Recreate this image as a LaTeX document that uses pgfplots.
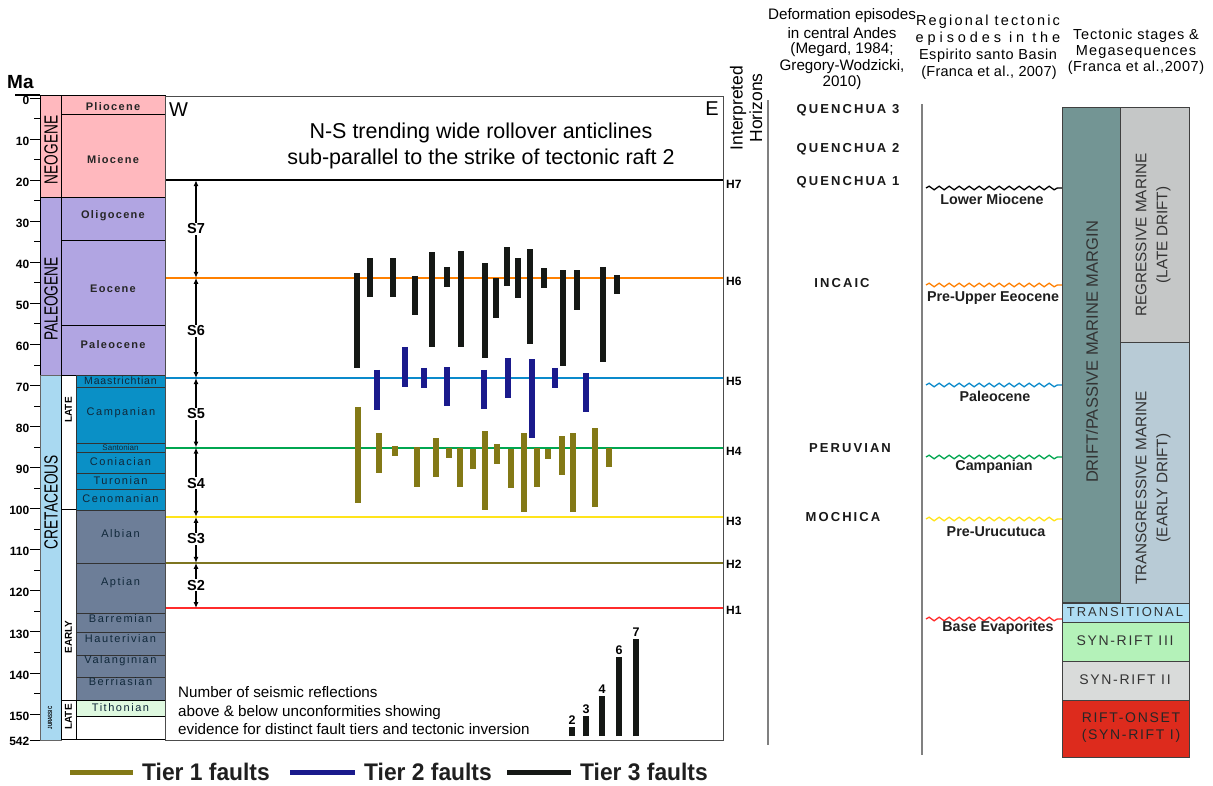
\documentclass[border=0pt]{standalone}
\usepackage{pgfplots}
\pgfplotsset{compat=1.18}
\usepackage{fontspec}
\setmainfont{Liberation Sans}
\usepackage{graphicx}
\usetikzlibrary{arrows.meta,decorations.pathmorphing}
\definecolor{neo}{HTML}{FFB8BE}
\definecolor{pal}{HTML}{B1A5E2}
\definecolor{cre}{HTML}{A9D9F1}
\definecolor{lcr}{HTML}{0A90C6}
\definecolor{ecr}{HTML}{6D7E98}
\definecolor{tith}{HTML}{DFF9E0}
\definecolor{drift}{HTML}{739594}
\definecolor{regr}{HTML}{C5C7C7}
\definecolor{trans}{HTML}{B8CBD6}
\definecolor{transit}{HTML}{AEDDF3}
\definecolor{srthree}{HTML}{B4F2B9}
\definecolor{srtwo}{HTML}{D9DBDA}
\definecolor{rift}{HTML}{DD2B1D}
\definecolor{horsix}{HTML}{FF8000}
\definecolor{horfive}{HTML}{0A8ACB}
\definecolor{horfour}{HTML}{00A650}
\definecolor{horthree}{HTML}{FFE41A}
\definecolor{hortwo}{HTML}{7E7520}
\definecolor{horone}{HTML}{FF2B2B}
\definecolor{tierA}{HTML}{837916}
\definecolor{tierB}{HTML}{1A1A8C}
\definecolor{tierC}{HTML}{151815}
\definecolor{stxt}{HTML}{10283A}
\definecolor{btxt}{HTML}{333333}
\newcommand{\F}[2]{\fontsize{#1}{#2}\selectfont}
\newcommand{\LS}[1]{\addfontfeatures{LetterSpace=#1}}
\pgfplotsset{ma/.style={y filter/.expression={98+4.107*y}}}
\newcommand{\prect}[5]{\addplot[#1] coordinates {(#2,#3) (#4,#3) (#4,#5) (#2,#5)} -- cycle;}
\newcommand{\srect}[5]{\addplot[#1,ma] coordinates {(#2,#3) (#4,#3) (#4,#5) (#2,#5)} -- cycle;}
\newcommand{\fault}[4]{\addplot[#1,line width=6pt,ma] coordinates {(#2,#3) (#2,#4)};}
\newcommand{\hzn}[2]{\addplot[#1,ma] coordinates {(166,#2) (723,#2)};}
\newcommand{\sarrow}[2]{\addplot[black,line width=1.3pt,ma,{Latex[length=6pt,width=5pt]}-{Latex[length=6pt,width=5pt]}] coordinates {(196,#1) (196,#2)};}
\newcommand{\wavy}[2]{\addplot[#1,line width=1.3pt,decorate,decoration={snake,amplitude=1.8pt,segment length=10pt}] coordinates {(926,#2) (1062,#2)};}
\begin{document}
\begin{tikzpicture}
\begin{axis}[width=1213pt,height=785pt,scale only axis,
  xmin=0,xmax=1213,ymin=0,ymax=785,y dir=reverse,
  axis lines=none,clip=false]
\prect{fill=white,draw=none}{0}{0}{1213}{785}
% ---------- stratigraphic column (ages in Ma) ----------
\srect{fill=neo,draw=black,line width=0.8pt}{40}{-0.6}{61}{24.2}
\srect{fill=pal,draw=black,line width=0.8pt}{40}{24.2}{61}{67.6}
\srect{fill=cre,draw=black!60,line width=0.8pt}{40}{67.6}{61}{156.3}
\srect{fill=neo,draw=black,line width=0.8pt}{61}{-0.6}{165}{4.1}
\srect{fill=neo,draw=black,line width=0.8pt}{61}{4.1}{165}{24.2}
\srect{fill=pal,draw=black,line width=0.8pt}{61}{24.2}{165}{34.6}
\srect{fill=pal,draw=black,line width=0.8pt}{61}{34.6}{165}{55.3}
\srect{fill=pal,draw=black,line width=0.8pt}{61}{55.3}{165}{67.6}
\srect{fill=white,draw=black,line width=1pt}{61}{67.6}{76}{100.3}
\srect{fill=white,draw=black,line width=1pt}{61}{100.3}{76}{146.8}
\srect{fill=white,draw=black,line width=1pt}{61}{146.8}{76}{156.3}
\srect{fill=lcr,draw=black!80,line width=0.8pt}{76}{67.6}{165}{70.4}
\srect{fill=lcr,draw=black!80,line width=0.8pt}{76}{70.4}{165}{84.0}
\srect{fill=lcr,draw=black!80,line width=0.8pt}{76}{84.0}{165}{86.4}
\srect{fill=lcr,draw=black!80,line width=0.8pt}{76}{86.4}{165}{91.3}
\srect{fill=lcr,draw=black!80,line width=0.8pt}{76}{91.3}{165}{95.4}
\srect{fill=lcr,draw=black!80,line width=0.8pt}{76}{95.4}{165}{100.3}
\srect{fill=ecr,draw=black!80,line width=0.8pt}{76}{100.3}{165}{113.2}
\srect{fill=ecr,draw=black!80,line width=0.8pt}{76}{113.2}{165}{125.4}
\srect{fill=ecr,draw=black!80,line width=0.8pt}{76}{125.4}{165}{130.0}
\srect{fill=ecr,draw=black!80,line width=0.8pt}{76}{130.0}{165}{135.6}
\srect{fill=ecr,draw=black!80,line width=0.8pt}{76}{135.6}{165}{141.0}
\srect{fill=ecr,draw=black!80,line width=0.8pt}{76}{141.0}{165}{146.8}
\srect{fill=tith,draw=black,line width=1pt}{76}{146.8}{165}{150.5}
\srect{fill=white,draw=black,line width=1pt}{76}{150.5}{165}{156.3}
% Ma ticks
\addplot[black,line width=1.5pt] coordinates {(15,95) (40,95)};
\pgfplotsinvokeforeach{0,10,...,150}{
  \addplot[black,line width=0.9pt,ma] coordinates {(30,#1) (40,#1)};
  \node[font=\F{12}{13}\bfseries,anchor=east,inner sep=0pt] at (axis cs:29.5,{98+4.107*#1+2}) {#1};
}
\pgfplotsinvokeforeach{5,15,...,145}{
  \addplot[black,line width=0.9pt,ma] coordinates {(34,#1) (40,#1)};
}
\addplot[black,line width=0.9pt] coordinates {(30,740) (40,740)};
\node[font=\F{12}{13}\bfseries,anchor=east,inner sep=0pt] at (axis cs:29.5,741) {542};
\node[font=\F{19}{22}\bfseries,anchor=west,inner sep=0pt] at (axis cs:7,82) {Ma};
% period / epoch labels
\node[font=\F{19}{20},rotate=90,inner sep=0pt] at (axis cs:51,150) {\scalebox{0.72}[1]{NEOGENE}};
\node[font=\F{19}{20},rotate=90,inner sep=0pt] at (axis cs:51,299) {\scalebox{0.72}[1]{PALEOGENE}};
\node[font=\F{19}{20},rotate=90,inner sep=0pt] at (axis cs:51,502) {\scalebox{0.72}[1]{CRETACEOUS}};
\node[font=\F{6}{7}\bfseries,rotate=90,inner sep=0pt] at (axis cs:50,718) {\scalebox{0.75}[1]{JURASSIC}};
\node[font=\F{10}{11}\bfseries,rotate=90,inner sep=0pt] at (axis cs:68.5,410) {LATE};
\node[font=\F{10}{11}\bfseries,rotate=90,inner sep=0pt] at (axis cs:68.5,637) {EARLY};
\node[font=\F{10}{11}\bfseries,rotate=90,inner sep=0pt] at (axis cs:68.5,717) {LATE};
\begin{scope}[every node/.style={font=\F{11}{12}\bfseries\LS{12},text=black!85,inner sep=0pt}]
\node at (axis cs:113,107) {Pliocene};
\node at (axis cs:113,160) {Miocene};
\node at (axis cs:113,216) {Oligocene};
\node at (axis cs:113,289) {Eocene};
\node at (axis cs:113,345) {Paleocene};
\end{scope}
\begin{scope}[every node/.style={font=\F{11}{12}\LS{14},text=stxt,inner sep=0pt}]
\node[font=\F{10.5}{12}\LS{8}] at (axis cs:120.5,381) {Maastrichtian};
\node at (axis cs:121,413) {Campanian};
\node[font=\F{8}{9}] at (axis cs:120.5,448) {Santonian};
\node at (axis cs:120.5,462) {Coniacian};
\node at (axis cs:120.5,481) {Turonian};
\node at (axis cs:120.5,499) {Cenomanian};
\node at (axis cs:120.5,534) {Albian};
\node at (axis cs:120.5,583) {Aptian};
\node at (axis cs:120.5,619) {Barremian};
\node at (axis cs:120.5,639) {Hauterivian};
\node at (axis cs:120.5,661) {Valanginian};
\node at (axis cs:120.5,682) {Berriasian};
\node at (axis cs:120.5,708) {Tithonian};
\end{scope}
% ---------- main panel ----------
\prect{draw=black!70,line width=0.8pt}{165}{96}{723}{740}
\hzn{horone,line width=2.2pt}{124.2}
\hzn{hortwo,line width=2.2pt}{113.2}
\hzn{horthree,line width=2.2pt}{102.0}
\hzn{horfour,line width=2pt}{85.1}
\hzn{horfive,line width=2.2pt}{68.2}
\hzn{horsix,line width=2.2pt}{43.8}
\hzn{black,line width=2pt}{20.0}
\sarrow{20.0}{43.8}
\sarrow{43.8}{68.2}
\sarrow{68.2}{85.1}
\sarrow{85.1}{102.0}
\sarrow{102.0}{113.2}
\sarrow{113.2}{124.2}
\begin{scope}[every node/.style={font=\F{14.5}{15}\bfseries,fill=white,inner sep=1pt}]
\node at (axis cs:196,229) {S7};
\node at (axis cs:196,331) {S6};
\node at (axis cs:196,414) {S5};
\node at (axis cs:196,483) {S4};
\node at (axis cs:196,539) {S3};
\node at (axis cs:196,585) {S2};
\end{scope}
\begin{scope}[every node/.style={font=\F{12}{13}\bfseries,anchor=west,inner sep=0pt}]
\node at (axis cs:726,184) {H7};
\node at (axis cs:726,281) {H6};
\node at (axis cs:726,381) {H5};
\node at (axis cs:726,451) {H4};
\node at (axis cs:726,521) {H3};
\node at (axis cs:726,564) {H2};
\node at (axis cs:726,610) {H1};
\end{scope}
\node[font=\F{20}{21},anchor=west,inner sep=0pt] at (axis cs:169,110) {W};
\node[font=\F{20}{21},anchor=east,inner sep=0pt] at (axis cs:719,109) {E};
\node[font=\F{21.5}{25.5},align=center,inner sep=0pt] at (axis cs:481,146) {N-S trending wide rollover anticlines\\sub-parallel to the strike of tectonic raft 2};
\node[font=\F{15.2}{18.5},align=left,anchor=west,inner sep=0pt] at (axis cs:178,711) {Number of seismic reflections\\above \& below unconformities showing\\evidence for distinct fault tiers and tectonic inversion};
\node[font=\F{17.5}{19.5},align=center,rotate=90,inner sep=0pt] at (axis cs:746,108) {Interpreted\\Horizons};
% Tier 3 faults
\fault{tierC}{357}{42.6}{65.7}
\fault{tierC}{370}{39.0}{48.5}
\fault{tierC}{393}{39.0}{48.5}
\fault{tierC}{415}{43.3}{52.8}
\fault{tierC}{432}{37.5}{60.6}
\fault{tierC}{447}{41.1}{46.0}
\fault{tierC}{461}{37.3}{60.6}
\fault{tierC}{485}{40.2}{63.3}
\fault{tierC}{496}{43.8}{53.6}
\fault{tierC}{507}{36.3}{45.8}
\fault{tierC}{518}{39.0}{48.7}
\fault{tierC}{530}{36.8}{59.9}
\fault{tierC}{544}{41.4}{46.3}
\fault{tierC}{563}{41.9}{65.3}
\fault{tierC}{577}{41.9}{51.6}
\fault{tierC}{603}{41.1}{64.3}
\fault{tierC}{617}{43.1}{47.7}
% Tier 2 faults
\fault{tierB}{377}{66.2}{76.0}
\fault{tierB}{405}{60.6}{70.4}
\fault{tierB}{424}{65.7}{70.6}
\fault{tierB}{447}{65.5}{75.0}
\fault{tierB}{484}{66.2}{75.7}
\fault{tierB}{508}{63.3}{73.0}
\fault{tierB}{532}{63.6}{82.8}
\fault{tierB}{555}{65.7}{70.6}
\fault{tierB}{586}{67.0}{76.5}
% Tier 1 faults
\fault{tierA}{358}{75.2}{98.6}
\fault{tierA}{379}{81.6}{91.3}
\fault{tierA}{395}{84.7}{87.2}
\fault{tierA}{417}{85.0}{94.7}
\fault{tierA}{436}{82.8}{92.3}
\fault{tierA}{449}{85.2}{87.7}
\fault{tierA}{460}{85.2}{94.7}
\fault{tierA}{473}{85.5}{90.3}
\fault{tierA}{485}{81.1}{100.3}
\fault{tierA}{497}{84.2}{89.1}
\fault{tierA}{511}{85.5}{95.0}
\fault{tierA}{524}{81.6}{100.8}
\fault{tierA}{537}{85.2}{94.7}
\fault{tierA}{548}{85.5}{87.9}
\fault{tierA}{562}{82.3}{91.8}
\fault{tierA}{573}{81.6}{100.8}
\fault{tierA}{595}{80.4}{99.6}
\fault{tierA}{609}{85.2}{89.8}
% reflections histogram
\addplot[tierC,line width=6pt] coordinates {(572,736) (572,727)};
\addplot[tierC,line width=6pt] coordinates {(586,736) (586,716)};
\addplot[tierC,line width=6pt] coordinates {(602,736) (602,696)};
\addplot[tierC,line width=6pt] coordinates {(619,736) (619,657)};
\addplot[tierC,line width=6pt] coordinates {(636,736) (636,639)};
\begin{scope}[every node/.style={font=\F{12.5}{13}\bfseries,anchor=south,inner sep=0pt}]
\node at (axis cs:572,725) {2};
\node at (axis cs:586,714) {3};
\node at (axis cs:602,694) {4};
\node at (axis cs:619,655) {6};
\node at (axis cs:636,637) {7};
\end{scope}
% ---------- right columns ----------
\addplot[black!50,line width=1.3pt] coordinates {(768,100) (768,745)};
\addplot[black!50,line width=1.3pt] coordinates {(922,104) (922,755)};
\begin{scope}[every node/.style={font=\F{15.2}{17},inner sep=0pt}]
\node at (axis cs:842,16) {Deformation episodes};
\node at (axis cs:842,33) {in central Andes};
\node at (axis cs:842,50) {(Megard, 1984;};
\node at (axis cs:842,67) {Gregory-Wodzicki,};
\node at (axis cs:842,83) {2010)};
\node[font=\F{14.5}{16}\LS{15}] at (axis cs:988,22) {Regional tectonic};
\node[font=\F{14.5}{16}\LS{27}] at (axis cs:988,39) {episodes in the};
\node[font=\F{14.5}{16}\LS{4}] at (axis cs:988,56) {Espirito santo Basin};
\node[font=\F{14.5}{16}\LS{2}] at (axis cs:989,73) {(Franca et al., 2007)};
\node[font=\F{14.5}{16}\LS{6}] at (axis cs:1136,36) {Tectonic stages \&};
\node[font=\F{14.5}{16}\LS{8}] at (axis cs:1136,52) {Megasequences};
\node[font=\F{14.5}{16}\LS{4}] at (axis cs:1136,68) {(Franca et al.,2007)};
\end{scope}
\begin{scope}[every node/.style={font=\F{13}{14}\bfseries\LS{16},text=black!90,inner sep=0pt}]
\node at (axis cs:848,110) {QUENCHUA 3};
\node at (axis cs:848,149) {QUENCHUA 2};
\node at (axis cs:848,182) {QUENCHUA 1};
\node at (axis cs:842,283) {INCAIC};
\node at (axis cs:850,448) {PERUVIAN};
\node at (axis cs:843,517) {MOCHICA};
\end{scope}
\wavy{black}{188}
\wavy{horsix}{285}
\wavy{horfive}{385}
\wavy{horfour}{457}
\wavy{horthree}{519}
\wavy{horone}{619}
\begin{scope}[every node/.style={font=\F{14.3}{15}\bfseries,text=black!88,inner sep=0pt}]
\node at (axis cs:992,199) {Lower Miocene};
\node at (axis cs:993,298) {Pre-Upper Eeocene};
\node at (axis cs:995,396) {Paleocene};
\node at (axis cs:994,467) {Campanian};
\node at (axis cs:996,532) {Pre-Urucutuca};
\node at (axis cs:998,628) {Base Evaporites};
\end{scope}
\prect{fill=drift,draw=black!75,line width=0.9pt}{1062}{107}{1120}{602}
\prect{fill=regr,draw=black!75,line width=0.9pt}{1120}{107}{1189}{342}
\prect{fill=trans,draw=black!75,line width=0.9pt}{1120}{342}{1189}{603}
\prect{fill=transit,draw=black!75,line width=0.9pt}{1062}{603}{1189}{622}
\prect{fill=srthree,draw=black!75,line width=0.9pt}{1062}{622}{1189}{661}
\prect{fill=srtwo,draw=black!75,line width=0.9pt}{1062}{661}{1189}{700}
\prect{fill=rift,draw=black!75,line width=0.9pt}{1062}{700}{1189}{757}
\begin{scope}[every node/.style={font=\F{15.3}{21},text=btxt,inner sep=0pt,align=center}]
\node[rotate=90,font=\F{16.5}{20}] at (axis cs:1092,352) {DRIFT/PASSIVE MARINE MARGIN};
\node[rotate=90] at (axis cs:1153,235) {REGRESSIVE MARINE\\(LATE DRIFT)};
\node[rotate=90] at (axis cs:1153,488) {TRANSGRESSIVE MARINE\\(EARLY DRIFT)};
\node[font=\F{13}{14}\LS{15}] at (axis cs:1125,612) {TRANSITIONAL};
\node[font=\F{14}{16}\LS{12}] at (axis cs:1125,641) {SYN-RIFT III};
\node[font=\F{14}{16}\LS{12}] at (axis cs:1125,680) {SYN-RIFT II};
\node[font=\F{14}{17}\LS{12},text=black!85] at (axis cs:1131,728) {RIFT-ONSET\\(SYN-RIFT I)};
\end{scope}
% ---------- legend ----------
\addplot[tierA,line width=5pt] coordinates {(70,772) (133,772)};
\addplot[tierB,line width=5pt] coordinates {(290,772) (355,772)};
\addplot[tierC,line width=5pt] coordinates {(507,772) (571,772)};
\begin{scope}[every node/.style={font=\F{24}{26}\bfseries,text=black!88,anchor=west,inner sep=0pt}]
\node at (axis cs:142,772) {\scalebox{0.95}[1]{Tier 1 faults}};
\node at (axis cs:364,772) {\scalebox{0.95}[1]{Tier 2 faults}};
\node at (axis cs:580,772) {\scalebox{0.95}[1]{Tier 3 faults}};
\end{scope}
\end{axis}
\end{tikzpicture}
\end{document}
